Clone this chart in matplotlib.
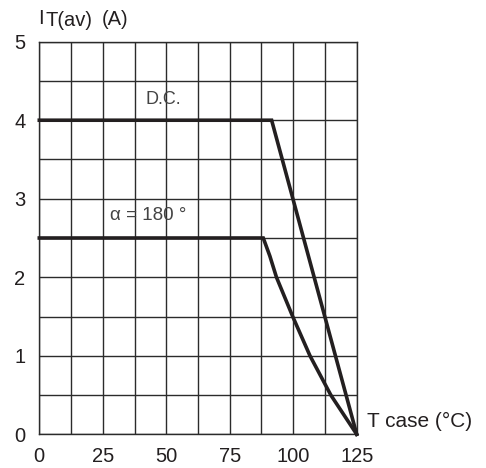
import matplotlib
matplotlib.use("Agg")
import matplotlib.pyplot as plt
import numpy as np

plt.rcParams['font.family'] = ['Liberation Sans', 'DejaVu Sans']

# Data
dc_x = [0, 91.5, 125]
dc_y = [4.0, 4.0, 0.0]
a180_x = [0, 88.2, 90.8, 93.4, 99.8, 106.6, 114.8, 125]
a180_y = [2.5, 2.5, 2.27, 2.0, 1.5, 1.0, 0.5, 0.0]
x_ticks = [0, 25, 50, 75, 100, 125]
y_ticks = [0, 1, 2, 3, 4, 5]

fig = plt.figure(figsize=(4.86, 4.68), dpi=100)
ax = fig.add_axes([39.3/486, 1 - 434.3/468, (356.7-39.3)/486, (434.3-41.7)/468])
ax.set_xlim(0, 125)
ax.set_ylim(0, 5)

gc = '#2b2b2b'
ax.set_xticks(x_ticks)
ax.set_xticks(np.arange(0, 125.1, 12.5), minor=True)
ax.set_yticks(y_ticks)
ax.set_yticks(np.arange(0, 5.01, 0.5), minor=True)
ax.grid(which='both', color=gc, linewidth=1.0)
ax.set_axisbelow(True)
for s in ax.spines.values():
    s.set_color(gc)
    s.set_linewidth(1.0)
ax.tick_params(which='both', length=0, labelsize=14.5, colors='#231f20')
ax.tick_params(axis='x', pad=9.5)
ax.tick_params(axis='y', pad=10)

lc = '#231f20'
ax.plot(dc_x, dc_y, color=lc, linewidth=2.6, solid_joinstyle='miter', clip_on=False, zorder=3)
ax.plot(a180_x, a180_y, color=lc, linewidth=2.6, solid_joinstyle='miter', clip_on=False, zorder=3)

ax.text(48.8, 4.26, 'D.C.', ha='center', va='center', fontsize=13, color='#444444')
ax.text(42.8, 2.79, 'α = 180 °', ha='center', va='center', fontsize=13.5, color='#444444')

fig.text(38/486, 1 - 24/468, 'I', ha='left', va='baseline', fontsize=14.5, color='#231f20')
fig.text(45/486, 1 - 26.5/468, 'T(av)', ha='left', va='baseline', fontsize=14.5, color='#231f20')
fig.text(102/486, 1 - 25/468, '(A)', ha='left', va='baseline', fontsize=14.5, color='#231f20')
fig.text(367/486, 1 - 427/468, 'T case (°C)', ha='left', va='baseline', fontsize=15, color='#231f20')

fig.savefig('out.png', dpi=100)
